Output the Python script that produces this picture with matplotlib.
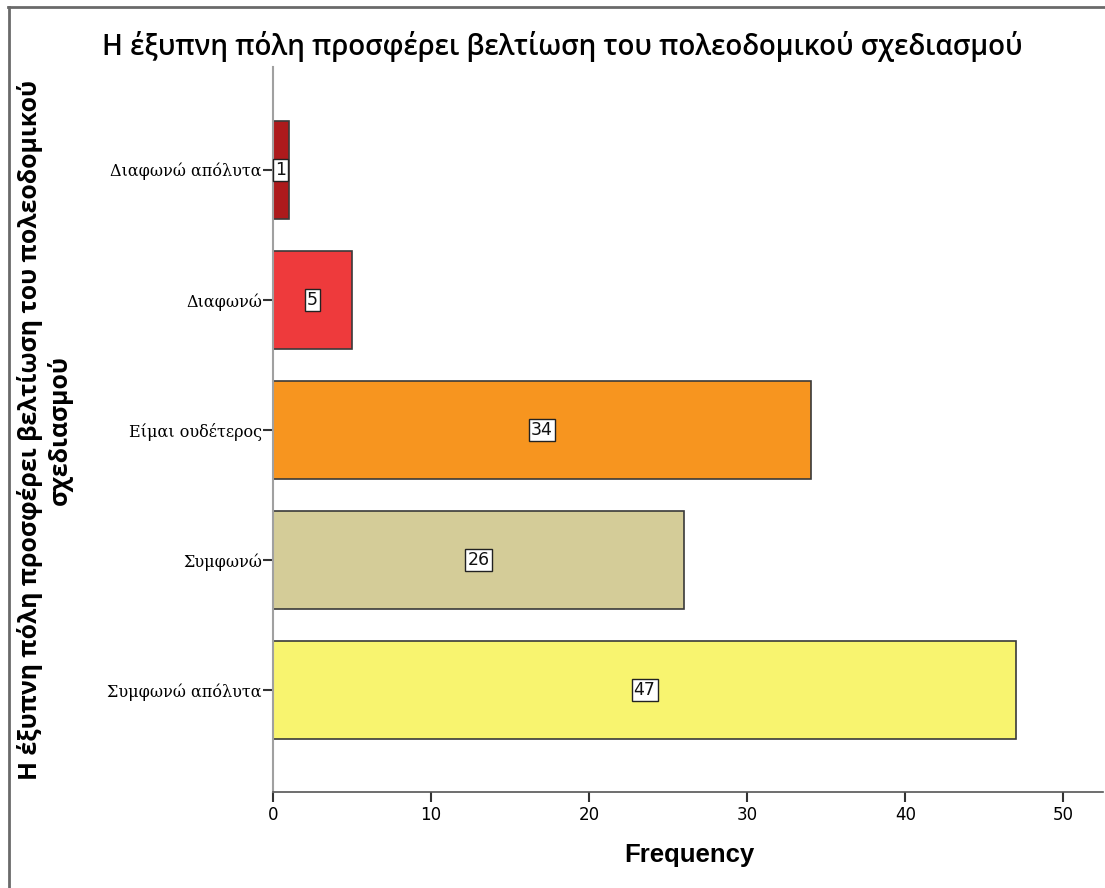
import matplotlib
matplotlib.use("Agg")
import matplotlib.pyplot as plt
from matplotlib.lines import Line2D

categories = ["Διαφωνώ απόλυτα", "Διαφωνώ", "Είμαι ουδέτερος", "Συμφωνώ", "Συμφωνώ απόλυτα"]
counts = [1, 5, 34, 26, 47]
colors = ["#ad1a1c", "#ee3a3c", "#f7951f", "#d4cc98", "#f8f46f"]
xticks = [0, 10, 20, 30, 40, 50]
title = "Η έξυπνη πόλη προσφέρει βελτίωση του πολεοδομικού σχεδιασμού"
ylabel = "Η έξυπνη πόλη προσφέρει βελτίωση του πολεοδομικού\nσχεδιασμού"
xlabel = "Frequency"

W, H = 1105, 888
fig = plt.figure(figsize=(W / 100, H / 100), dpi=100)
ax = fig.add_axes([273 / W, 1 - 792 / H, (1103 - 273) / W, (792 - 67) / H])

y = list(range(len(categories)))
ax.barh(y, counts, height=0.75, color=colors, edgecolor="#3a3a3a", linewidth=1.2, zorder=2)
for yi, c in zip(y, counts):
    ax.text(c / 2, yi, str(c), ha="center", va="center", fontsize=12.5,
            family="DejaVu Sans", color="#111111", zorder=3,
            bbox=dict(boxstyle="square,pad=0.12", fc="white", ec="#222222", lw=1))

ax.set_xlim(0, 52.5)
ax.set_ylim(4.785, -0.79)
ax.set_yticks(y)
ax.set_yticklabels(categories, family="DejaVu Serif", fontsize=11.5)
ax.set_xticks(xticks)
ax.set_xticklabels([str(t) for t in xticks], family="DejaVu Sans", fontsize=12)

for s in ["top", "right"]:
    ax.spines[s].set_visible(False)
ax.spines["left"].set_color("#a0a0a0")
ax.spines["left"].set_linewidth(1.5)
ax.spines["bottom"].set_color("#555555")
ax.spines["bottom"].set_linewidth(1.2)
ax.tick_params(axis="y", length=7, width=1.5, color="#333333", pad=1)
ax.tick_params(axis="x", length=7, width=1.5, color="#333333", pad=3)

fig.text(562 / W, 1 - 46 / H, title, ha="center", va="center", fontsize=20,
         family="Open Sans", fontweight="semibold")
fig.text(45 / W, 1 - 430 / H, ylabel, ha="center", va="center", rotation=90,
         fontsize=17.8, fontweight="bold", family="Open Sans", linespacing=1.15)
fig.text(689 / W, 1 - 855 / H, xlabel, ha="center", va="center", fontsize=18.5,
         fontweight="bold", family="Liberation Sans")

fig.add_artist(Line2D([9 / W, 9 / W], [0, 1 - 7 / H], transform=fig.transFigure,
                      color="#6a6a6a", linewidth=2))
fig.add_artist(Line2D([8 / W, 1], [1 - 7 / H, 1 - 7 / H], transform=fig.transFigure,
                      color="#6a6a6a", linewidth=2))

fig.savefig("out.png", dpi=100)
